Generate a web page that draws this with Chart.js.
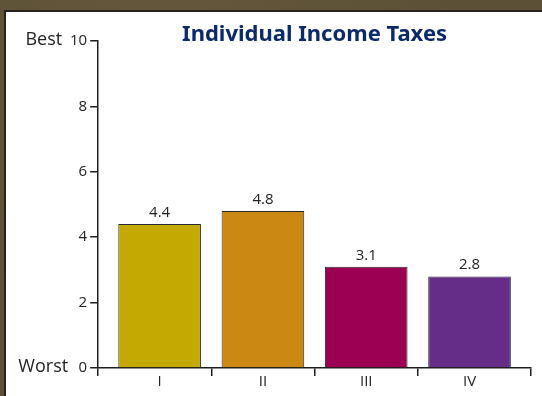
<!DOCTYPE html>
<html>
<head>
<meta charset="utf-8">
<script src="https://cdn.jsdelivr.net/npm/chart.js@4.4.1/dist/chart.umd.min.js"></script>
<style>
  html, body { margin: 0; padding: 0; }
  body {
    width: 542px; height: 396px; overflow: hidden;
    background: #5c5036;
    background-image: radial-gradient(circle at 30% 20%, rgba(120,105,70,0.35), transparent 60%);
    position: relative;
  }
  #panel {
    position: absolute; left: 4px; top: 10px; right: 0; bottom: 0;
    background: #fff;
    border-top: 2px solid #26231d;
    border-left: 2px solid #26231d;
  }
  canvas { display: block; }
</style>
</head>
<body>
<div id="panel"><canvas id="chart" width="536" height="384"></canvas></div>
<script>
// --- Data ---
const categories = ['I', 'II', 'III', 'IV'];
const scores = [4.4, 4.8, 3.1, 2.8];
const barColors = ['#c4a902', '#cb8812', '#9c0052', '#652d87'];
const yTicks = [0, 2, 4, 6, 8, 10];
const sideLabels = { 10: 'Best', 0: 'Worst' };
const chartTitle = 'Individual Income Taxes';

// x range: category n sits at value n, with a little extra room at both ends
const X_MIN = 0.405;
const X_MAX = 4.595;

const positions = categories.map((c, i) => i + 1);
const dividers = [X_MIN].concat(positions.slice(1).map(p => p - 0.5), [X_MAX]);

const inkColor = '#1e1e1e';
const textFamily = '"Open Sans", "Noto Sans", sans-serif';
const tickFont = { family: textFamily, size: 15, lineHeight: 1 };

// value labels above the bars
const valueLabels = {
    id: 'valueLabels',
    afterDatasetsDraw(chart) {
        const ctx = chart.ctx;
        const meta = chart.getDatasetMeta(0);
        ctx.save();
        ctx.font = '15px ' + textFamily;
        ctx.fillStyle = '#222';
        ctx.textAlign = 'center';
        ctx.textBaseline = 'alphabetic';
        meta.data.forEach((bar, i) => {
            ctx.fillText(scores[i].toFixed(1), bar.x, bar.y - 7);
        });
        ctx.restore();
    }
};

// "Best" / "Worst" beside the y tick labels
const sideText = {
    id: 'sideText',
    afterDraw(chart) {
        const ctx = chart.ctx;
        const y = chart.scales.y;
        ctx.save();
        ctx.fillStyle = '#222';
        ctx.textAlign = 'right';
        ctx.textBaseline = 'middle';
        ctx.font = '18px ' + textFamily;
        Object.keys(sideLabels).forEach(v => {
            // the label sits a bit left of its tick number
            const x = chart.chartArea.left - (Number(v) === 0 ? 30 : 36);
            ctx.fillText(sideLabels[v], x, y.getPixelForValue(Number(v)) - 1);
        });
        ctx.restore();
    }
};

new Chart(document.getElementById('chart'), {
    type: 'bar',
    data: {
        datasets: [{
            data: scores.map((v, i) => ({ x: positions[i], y: v })),
            backgroundColor: barColors,
            borderColor: '#2a2a2a',
            borderWidth: 1,
            categoryPercentage: 1,
            barPercentage: 0.8
        }]
    },
    options: {
        responsive: false,
        animation: false,
        layout: { padding: { left: 61, right: 11, top: 0, bottom: 9 } },
        plugins: {
            legend: { display: false },
            tooltip: { enabled: false },
            title: {
                display: true,
                text: chartTitle,
                fullSize: false,
                color: '#0b2a6a',
                font: { family: 'Noto Sans', size: 22, weight: 'bold' },
                padding: { top: 10, bottom: -7.4 }
            }
        },
        scales: {
            x: {
                type: 'linear',
                min: X_MIN,
                max: X_MAX,
                offset: false,
                weight: 1,
                afterBuildTicks: scale => { scale.ticks = positions.map(v => ({ value: v })); },
                grid: { display: false, drawTicks: false, offset: false },
                border: { display: false },
                ticks: {
                    autoSkip: false,
                    maxRotation: 0,
                    padding: -2,
                    color: '#222',
                    font: tickFont,
                    callback: v => categories[v - 1]
                }
            },
            xMarks: {
                type: 'linear',
                position: 'bottom',
                min: X_MIN,
                max: X_MAX,
                offset: false,
                weight: 0,
                afterBuildTicks: scale => { scale.ticks = dividers.map(v => ({ value: v })); },
                grid: { drawOnChartArea: false, tickLength: 8, color: inkColor, lineWidth: 1.5, offset: false },
                border: { display: true, color: inkColor, width: 1.5 },
                ticks: { display: false }
            },
            y: {
                min: 0,
                max: 10,
                afterBuildTicks: scale => { scale.ticks = yTicks.map(v => ({ value: v })); },
                grid: { drawOnChartArea: false, tickLength: 8, color: inkColor, lineWidth: 1.5 },
                border: { display: true, color: inkColor, width: 1.5 },
                ticks: { padding: 3, color: '#222', font: tickFont }
            }
        }
    },
    plugins: [valueLabels, sideText]
});
</script>
</body>
</html>
